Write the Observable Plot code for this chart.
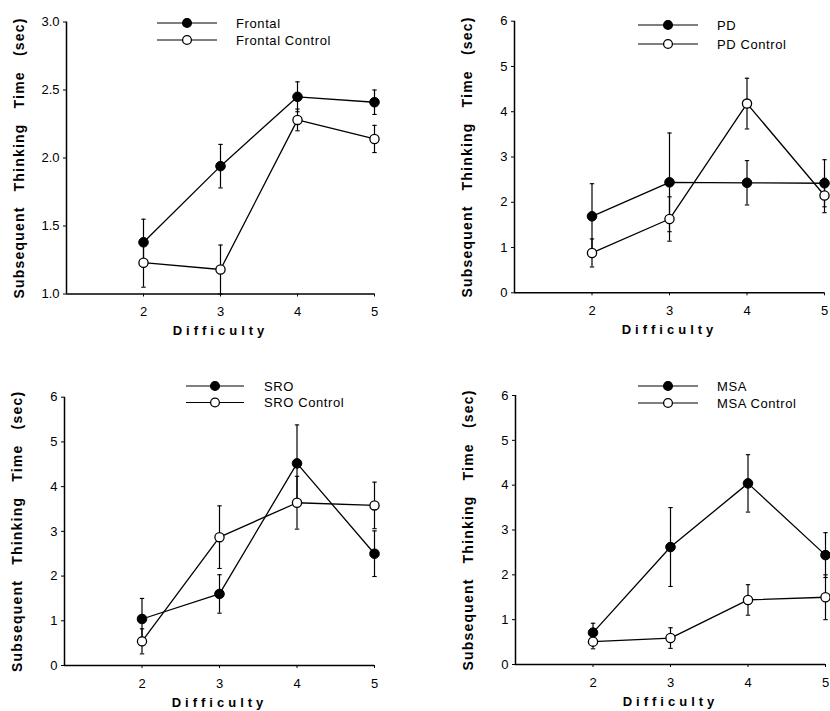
<!DOCTYPE html>
<html><head><meta charset="utf-8">
<script src="https://cdn.jsdelivr.net/npm/d3@7"></script>
<script src="https://cdn.jsdelivr.net/npm/@observablehq/plot@0.6"></script>
<style>
body{margin:0;background:#fff}
#root{position:relative;width:830px;height:711px;overflow:hidden;background:#fff}
#root svg{position:absolute;overflow:visible}
</style></head><body><div id="root"></div>
<script>
// ---- data ----
const difficulty = [2, 3, 4, 5];
const xLabel = "Difficulty";
const yLabel = "Subsequent Thinking Time (sec)";

const frontalNames = ["Frontal", "Frontal Control"];
const frontal = [1.38, 1.94, 2.45, 2.41];
const frontalErr = [0.17, 0.16, 0.11, 0.09];
const frontalControl = [1.23, 1.18, 2.28, 2.14];
const frontalControlErr = [0.18, 0.18, 0.08, 0.10];
const frontalTicks = [1.0, 1.5, 2.0, 2.5, 3.0];

const pdNames = ["PD", "PD Control"];
const pd = [1.69, 2.44, 2.43, 2.42];
const pdErr = [0.72, 1.09, 0.49, 0.52];
const pdControl = [0.88, 1.63, 4.18, 2.15];
const pdControlErr = [0.31, 0.49, 0.56, 0.38];

const sroNames = ["SRO", "SRO Control"];
const sro = [1.04, 1.60, 4.52, 2.50];
const sroErr = [0.46, 0.43, 0.86, 0.51];
const sroControl = [0.54, 2.87, 3.64, 3.58];
const sroControlErr = [0.28, 0.70, 0.59, 0.52];

const msaNames = ["MSA", "MSA Control"];
const msa = [0.71, 2.62, 4.04, 2.44];
const msaErr = [0.21, 0.88, 0.64, 0.50];
const msaControl = [0.51, 0.59, 1.44, 1.50];
const msaControlErr = [0.16, 0.23, 0.34, 0.50];

const secTicks = [0, 1, 2, 3, 4, 5, 6];

const panels = [
  {names: frontalNames, series: [[frontal, frontalErr], [frontalControl, frontalControlErr]], yDomain: [1, 3], yTicks: frontalTicks, fmt: ".1f"},
  {names: pdNames, series: [[pd, pdErr], [pdControl, pdControlErr]], yDomain: [0, 6], yTicks: secTicks, fmt: "d"},
  {names: sroNames, series: [[sro, sroErr], [sroControl, sroControlErr]], yDomain: [0, 6], yTicks: secTicks, fmt: "d"},
  {names: msaNames, series: [[msa, msaErr], [msaControl, msaControlErr]], yDomain: [0, 6], yTicks: secTicks, fmt: "d"}
];

// ---- layout (pixels) ----
const layout = [
  {left: 0,   top: 0,   width: 415, height: 340, mt: 21.5, mb: 46.5, ml: 66,  mr: 41, lg: {x0: 157, x1: 217, tx: 236, ys: [23, 40]}},
  {left: 415, top: 0,   width: 415, height: 340, mt: 20.7, mb: 47.7, ml: 99,  mr: 6,  lg: {x0: 638, x1: 698, tx: 717, ys: [25, 44]}},
  {left: 0,   top: 340, width: 415, height: 371, mt: 56.7, mb: 46,   ml: 64,  mr: 41, lg: {x0: 186, x1: 244, tx: 264, ys: [386, 402.5]}},
  {left: 415, top: 340, width: 415, height: 371, mt: 55,   mb: 47,   ml: 100, mr: 5,  lg: {x0: 638, x1: 698, tx: 717, ys: [386, 403]}}
];

const font = "'Liberation Sans', Arial, Helvetica, sans-serif";
const cap = {draw(ctx) { ctx.moveTo(-2.2, 0); ctx.lineTo(2.2, 0); }};
const root = document.getElementById("root");

panels.forEach((p, i) => {
  const L = layout[i];
  const rows = [];
  p.series.forEach(([vals, errs], s) => {
    difficulty.forEach((d, k) => rows.push({x: d, y: vals[k], err: errs[k], s}));
  });
  const filled = rows.filter(r => r.s === 0);
  const open = rows.filter(r => r.s === 1);
  const chart = Plot.plot({
    width: L.width, height: L.height,
    marginTop: L.mt, marginBottom: L.mb, marginLeft: L.ml, marginRight: L.mr,
    style: {fontFamily: font, fontSize: "13px", color: "black", background: "transparent", overflow: "visible"},
    x: {domain: [1, 5], ticks: difficulty, tickSize: 3, tickPadding: 10, label: null, tickFormat: d3.format("d")},
    y: {domain: p.yDomain, ticks: p.yTicks, tickSize: 3, tickPadding: 4, label: null, tickFormat: d3.format(p.fmt)},
    marks: [
      Plot.ruleX([1], {stroke: "black", strokeWidth: 1.5}),
      Plot.ruleY([p.yDomain[0]], {stroke: "black", strokeWidth: 1.5}),
      Plot.line(rows, {x: "x", y: "y", z: "s", stroke: "black", strokeWidth: 1.3}),
      Plot.ruleX(rows, {x: "x", y1: d => d.y - d.err, y2: d => d.y + d.err, stroke: "black", strokeWidth: 1.2}),
      Plot.dot(rows, {x: "x", y: d => d.y + d.err, symbol: cap, stroke: "black", strokeWidth: 1.1}),
      Plot.dot(rows, {x: "x", y: d => d.y - d.err, symbol: cap, stroke: "black", strokeWidth: 1.1}),
      Plot.dot(filled, {x: "x", y: "y", r: 4.8, fill: "black", stroke: "black", strokeWidth: 1}),
      Plot.dot(open, {x: "x", y: "y", r: 4.6, fill: "white", stroke: "black", strokeWidth: 1.3}),
      Plot.text([xLabel], {frameAnchor: "bottom", dy: 37, text: d => d, fontWeight: "bold", fontSize: 13, lineAnchor: "middle"}),
      Plot.text([yLabel], {frameAnchor: "left", dx: -47, rotate: -90, text: d => d, fontWeight: "bold", fontSize: 14, lineAnchor: "middle", textAnchor: "middle"})
    ]
  });
  chart.style.left = L.left + "px";
  chart.style.top = L.top + "px";
  d3.select(chart).selectAll("text").filter(function() { return this.textContent === xLabel; })
    .attr("letter-spacing", "4px");
  d3.select(chart).selectAll("text").filter(function() { return this.textContent === yLabel; })
    .attr("letter-spacing", "1.2px").attr("word-spacing", "10px");
  root.appendChild(chart);
});

// ---- legends ----
const lsvg = d3.select(root).append("svg")
  .attr("width", 830).attr("height", 711)
  .style("left", "0px").style("top", "0px")
  .attr("font-family", font).attr("font-size", 13);
panels.forEach((p, i) => {
  const g = layout[i].lg;
  p.names.forEach((name, s) => {
    const y = g.ys[s];
    const cx = (g.x0 + g.x1) / 2;
    lsvg.append("line").attr("x1", g.x0).attr("x2", g.x1).attr("y1", y).attr("y2", y)
      .attr("stroke", "black").attr("stroke-width", 1);
    lsvg.append("circle").attr("cx", cx).attr("cy", y).attr("r", 4.4)
      .attr("fill", s === 0 ? "black" : "white").attr("stroke", "black").attr("stroke-width", 1.3);
    lsvg.append("text").attr("x", g.tx).attr("y", y).attr("dy", "0.35em")
      .attr("letter-spacing", "0.6px").text(name);
  });
});
</script></body></html>
